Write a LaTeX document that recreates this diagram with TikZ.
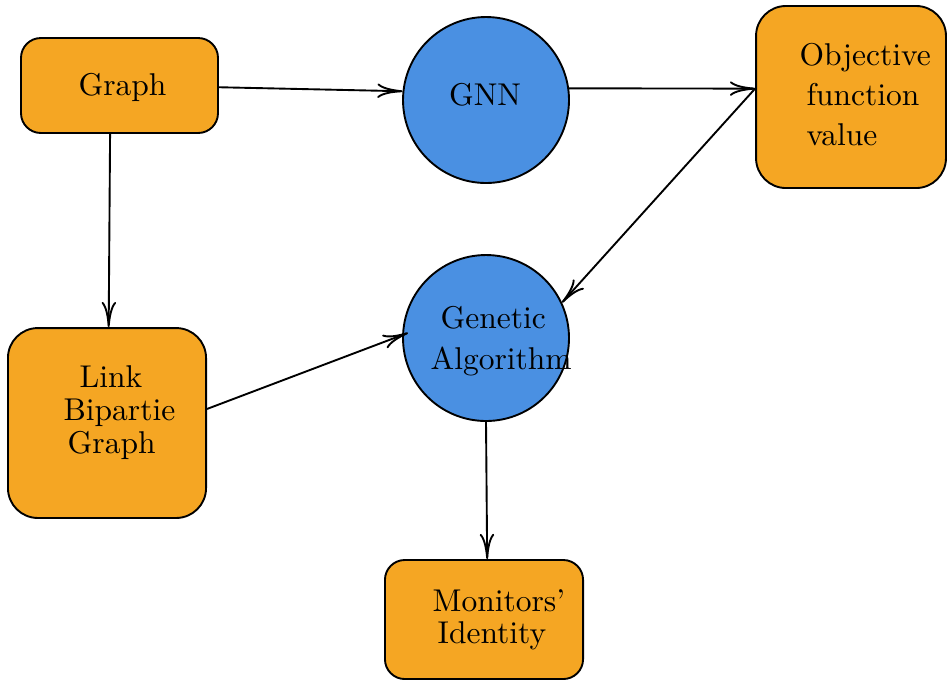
\documentclass[tikz,border=0pt]{standalone}
\usetikzlibrary{arrows.meta}
\definecolor{boxorange}{HTML}{F5A623}
\definecolor{nodeblue}{HTML}{4A90E2}
\begin{document}
\begin{tikzpicture}[x=0.3175pt,y=-0.3175pt,
  box/.style={draw,line width=0.6pt,fill=boxorange,inner sep=0pt},
  ball/.style={draw,line width=0.6pt,fill=nodeblue,circle,inner sep=0pt,minimum size=52.7pt},
  lbl/.style={inner sep=0pt,font=\normalsize},
  conn/.style={line width=0.6pt,-{To[length=8pt,width=4.6pt]}}]
\useasboundingbox (0,0) rectangle (947,680);
% shapes
\node[box,rounded corners=6.3pt,minimum width=62.55pt,minimum height=30.16pt] (graph) at (119.5,85.5) {};
\node[ball] (gnn) at (486,100) {};
\node[box,rounded corners=9.5pt,minimum width=60.3pt,minimum height=57.8pt] (obj) at (851,97) {};
\node[ball] (ga) at (486,338) {};
\node[box,rounded corners=9.5pt,minimum width=62.9pt,minimum height=60.3pt] (link) at (107,423) {};
\node[box,rounded corners=6.3pt,minimum width=62.9pt,minimum height=37.8pt] (mon) at (484,619.5) {};
% texts
\node[lbl,anchor=base] (graphtxt) at (122.5,95) {Graph};
\node[lbl] (gnntxt) at (485,94.5) {GNN};
\node[lbl,anchor=north west,align=left] (objtxt) at (799,43) {Objective\\[0.7pt]\hspace*{2.2pt}function\\[0.7pt]\hspace*{2.2pt}value};
\node[lbl,anchor=north west,align=left] (gatxt) at (430,306) {\hspace*{3.2pt}Genetic\\[0.8pt]Algorithm};
\node[lbl,anchor=north west,align=left] (linktxt) at (63,365) {\hspace*{5.1pt}Link\\[-1.6pt]Bipartie\\[-1.4pt]\hspace*{1.3pt}Graph};
\node[lbl,anchor=north west,align=left] (montxt) at (432,589) {Monitors'\\[-1.9pt]\hspace*{1.6pt}Identity};
% connectors
\draw[conn] (graph.-1.5) -- (gnn.174);
\draw[conn] (gnn.8) -- (obj.175.8);
\draw[conn] (obj.175.8) -- (ga.25.3);
\draw[conn] (graph.-101.3) -- (link.89.4);
\draw[conn,shorten >=-2pt] (link.8.6) -- (ga.178);
\draw[conn] (ga.south) -- (mon.87);
\end{tikzpicture}
\end{document}
